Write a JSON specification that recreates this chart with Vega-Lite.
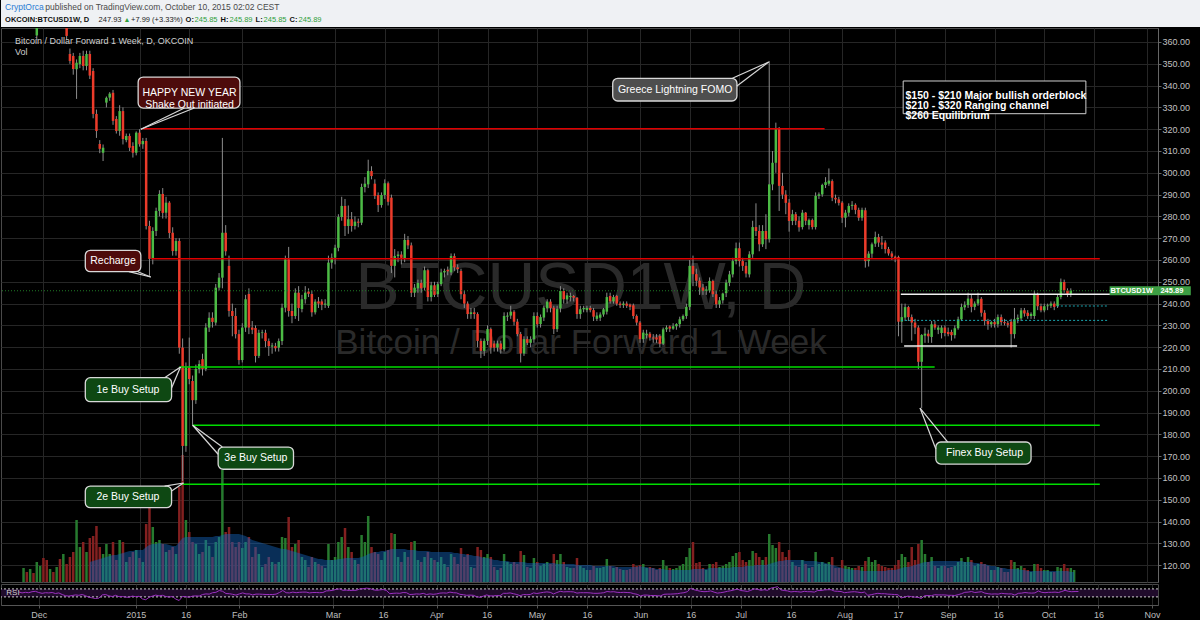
{
"$schema":"https://vega.github.io/schema/vega-lite/v6.json",
"background":"#000000",
"padding":0,
"spacing":0,
"config":{"view":{"stroke":null},"font":"Liberation Sans","axis":{"labelFont":"Liberation Sans"},"axisY":{"labelOverlap":false}},
"resolve":{"scale":{"x":"independent","y":"independent","color":"independent"}},
"datasets":{
"btc":[
{"d":"2014-11-27","o":372,"h":380,"l":368,"c":375,"v":14,"r":55},
{"d":"2014-11-28","o":375,"h":382,"l":367,"c":370,"v":10,"r":50},
{"d":"2014-11-29","o":370,"h":378,"l":368,"c":374,"v":13,"r":53},
{"d":"2014-11-30","o":374,"h":380,"l":370,"c":372,"v":9,"r":51},
{"d":"2014-12-01","o":363,"h":382,"l":361,"c":378,"v":20,"r":56},
{"d":"2014-12-02","o":378,"h":385,"l":372,"c":381,"v":16,"r":58},
{"d":"2014-12-03","o":381,"h":384,"l":370,"c":375,"v":24,"r":52},
{"d":"2014-12-04","o":375,"h":378,"l":367,"c":370,"v":22,"r":48},
{"d":"2014-12-05","o":370,"h":377,"l":367.5,"c":374,"v":13,"r":51},
{"d":"2014-12-06","o":374,"h":376,"l":369,"c":372,"v":10,"r":50},
{"d":"2014-12-07","o":372,"h":377,"l":369,"c":374,"v":15,"r":52},
{"d":"2014-12-08","o":374,"h":376,"l":367,"c":368,"v":23,"r":47},
{"d":"2014-12-09","o":368,"h":374,"l":367,"c":372,"v":28,"r":50},
{"d":"2014-12-10","o":372,"h":375,"l":361,"c":362.8,"v":18,"r":42},
{"d":"2014-12-11","o":354.5,"h":357,"l":350,"c":351.3,"v":25,"r":36},
{"d":"2014-12-12","o":353.6,"h":355,"l":345,"c":347.6,"v":30,"r":34},
{"d":"2014-12-13","o":347.5,"h":352,"l":333.9,"c":350.5,"v":62,"r":37},
{"d":"2014-12-14","o":349.9,"h":355,"l":348,"c":353.6,"v":35,"r":40},
{"d":"2014-12-15","o":353.6,"h":356,"l":347,"c":349,"v":40,"r":38},
{"d":"2014-12-16","o":349,"h":356,"l":347,"c":354.5,"v":30,"r":42},
{"d":"2014-12-17","o":354.5,"h":356,"l":343,"c":344.6,"v":44,"m":20,"r":36},
{"d":"2014-12-18","o":346.7,"h":348,"l":325,"c":327,"v":46,"m":21,"r":28},
{"d":"2014-12-19","o":327,"h":329,"l":316,"c":319.2,"v":56,"m":22,"r":25},
{"d":"2014-12-20","o":313.2,"h":315,"l":309,"c":311,"v":35,"m":23,"r":22},
{"d":"2014-12-21","o":309.2,"h":313,"l":305.4,"c":311.5,"v":28,"m":24,"r":24},
{"d":"2014-12-22","o":332.2,"h":335,"l":330,"c":334.4,"v":38,"m":25,"r":40},
{"d":"2014-12-23","o":334.5,"h":337,"l":333,"c":336.3,"v":28,"m":26,"r":42},
{"d":"2014-12-24","o":336.7,"h":338,"l":322,"c":323.8,"v":40,"m":27,"r":35},
{"d":"2014-12-25","o":324.7,"h":326,"l":318,"c":319.2,"v":22,"m":27,"r":32},
{"d":"2014-12-26","o":319.2,"h":331,"l":317,"c":328.3,"v":42,"m":28,"r":38},
{"d":"2014-12-27","o":328.3,"h":330,"l":313,"c":315.5,"v":40,"m":29,"r":31},
{"d":"2014-12-28","o":315,"h":318,"l":314,"c":316.9,"v":20,"m":30,"r":32},
{"d":"2014-12-29","o":316.9,"h":318,"l":310,"c":311.5,"v":25,"m":31,"r":29},
{"d":"2014-12-30","o":312.3,"h":314,"l":307,"c":309.2,"v":30,"m":31,"r":28},
{"d":"2014-12-31","o":309.2,"h":319,"l":308,"c":318.4,"v":32,"m":32,"r":34},
{"d":"2015-01-01","o":318.4,"h":320,"l":312,"c":313.1,"v":24,"m":32,"r":31},
{"d":"2015-01-02","o":313.1,"h":316,"l":311,"c":314.6,"v":20,"m":32,"r":33},
{"d":"2015-01-03","o":314.6,"h":316,"l":274,"c":275.6,"v":58,"m":35,"r":20},
{"d":"2015-01-04","o":275.6,"h":278,"l":252.7,"c":260.5,"v":75,"m":37,"r":16},
{"d":"2015-01-05","o":260.5,"h":275,"l":258,"c":273.3,"v":55,"m":38,"r":28},
{"d":"2015-01-06","o":273.3,"h":284,"l":271,"c":282.5,"v":40,"m":38,"r":34},
{"d":"2015-01-07","o":282.5,"h":292,"l":280,"c":290.3,"v":42,"m":39,"r":39},
{"d":"2015-01-08","o":290.3,"h":293,"l":279,"c":281.6,"v":38,"m":38,"r":35},
{"d":"2015-01-09","o":281.7,"h":289,"l":279,"c":286.3,"v":30,"m":38,"r":38},
{"d":"2015-01-10","o":286.3,"h":287,"l":270,"c":272.4,"v":32,"m":37,"r":32},
{"d":"2015-01-11","o":272.5,"h":275,"l":262,"c":264.1,"v":35,"m":36,"r":29},
{"d":"2015-01-12","o":264.1,"h":270,"l":262,"c":268.7,"v":28,"m":36,"r":32},
{"d":"2015-01-13","o":268.7,"h":270,"l":217,"c":219.8,"v":95,"m":40,"r":19},
{"d":"2015-01-14","o":219.8,"h":224,"l":158.6,"c":174.7,"v":127,"m":44,"r":12},
{"d":"2015-01-15","o":174.7,"h":213,"l":172,"c":210.6,"v":62,"m":45,"r":32},
{"d":"2015-01-16","o":210.6,"h":224.4,"l":203,"c":205.4,"v":50,"m":45,"r":31},
{"d":"2015-01-17","o":204.5,"h":207,"l":183.9,"c":195.7,"v":40,"m":45,"r":28},
{"d":"2015-01-18","o":195.7,"h":212,"l":194,"c":210,"v":38,"m":45,"r":34},
{"d":"2015-01-19","o":210,"h":214,"l":208,"c":212.3,"v":28,"m":45,"r":35},
{"d":"2015-01-20","o":214.5,"h":217,"l":207,"c":210,"v":30,"m":45,"r":34},
{"d":"2015-01-21","o":210,"h":231,"l":209,"c":229,"v":42,"m":45,"r":42},
{"d":"2015-01-22","o":229,"h":236,"l":227,"c":233.5,"v":36,"m":45,"r":45},
{"d":"2015-01-23","o":233.5,"h":236,"l":229,"c":231.6,"v":25,"m":45,"r":44},
{"d":"2015-01-24","o":231.3,"h":249,"l":230,"c":247.3,"v":40,"m":46,"r":51},
{"d":"2015-01-25","o":247.3,"h":254,"l":246,"c":251.9,"v":45,"m":46,"r":53},
{"d":"2015-01-26","o":251.9,"h":316,"l":247,"c":272.5,"v":112,"m":47,"r":62},
{"d":"2015-01-27","o":272.5,"h":276,"l":262,"c":264,"v":50,"m":48,"r":58},
{"d":"2015-01-28","o":257.3,"h":262,"l":234,"c":236.6,"v":55,"m":48,"r":47},
{"d":"2015-01-29","o":236.6,"h":240,"l":225,"c":234.3,"v":40,"m":48,"r":46},
{"d":"2015-01-30","o":234.3,"h":238,"l":224,"c":226,"v":35,"m":48,"r":43},
{"d":"2015-01-31","o":226,"h":228,"l":212,"c":214.1,"v":40,"m":48,"r":39},
{"d":"2015-02-01","o":214.1,"h":231,"l":213,"c":229,"v":34,"m":47,"r":45},
{"d":"2015-02-02","o":229,"h":244,"l":227,"c":242,"v":40,"m":46,"r":50},
{"d":"2015-02-03","o":244.4,"h":247,"l":226,"c":229,"v":45,"m":44,"r":45},
{"d":"2015-02-04","o":229,"h":232,"l":226,"c":228,"v":25,"m":42,"r":45},
{"d":"2015-02-05","o":228.8,"h":230,"l":213,"c":216,"v":35,"m":41,"r":40},
{"d":"2015-02-06","o":216,"h":228,"l":215,"c":226.6,"v":28,"m":40,"r":44},
{"d":"2015-02-07","o":226.6,"h":228,"l":224,"c":226.9,"v":15,"m":39,"r":44},
{"d":"2015-02-08","o":226.6,"h":228,"l":220,"c":222.8,"v":18,"m":38,"r":43},
{"d":"2015-02-09","o":222.8,"h":224,"l":216,"c":220.5,"v":25,"m":37,"r":42},
{"d":"2015-02-10","o":220.3,"h":222,"l":217,"c":220.8,"v":20,"m":36,"r":42},
{"d":"2015-02-11","o":220.5,"h":222,"l":218,"c":219.5,"v":18,"m":35,"r":42},
{"d":"2015-02-12","o":219.8,"h":224,"l":218,"c":222.8,"v":20,"m":34,"r":44},
{"d":"2015-02-13","o":222.8,"h":240,"l":221,"c":238.1,"v":45,"m":33,"r":52},
{"d":"2015-02-14","o":238.1,"h":262,"l":236,"c":260.3,"v":44,"m":33,"r":62},
{"d":"2015-02-15","o":260.3,"h":266,"l":234,"c":236.6,"v":65,"m":32,"r":51},
{"d":"2015-02-16","o":236.6,"h":240,"l":231,"c":234.3,"v":35,"m":31,"r":50},
{"d":"2015-02-17","o":234.3,"h":247,"l":233,"c":245,"v":38,"m":30,"r":54},
{"d":"2015-02-18","o":245,"h":248,"l":232,"c":238,"v":42,"m":29,"r":51},
{"d":"2015-02-19","o":237.5,"h":244,"l":236,"c":242,"v":25,"m":28,"r":53},
{"d":"2015-02-20","o":242,"h":248,"l":240,"c":245,"v":22,"m":27,"r":54},
{"d":"2015-02-21","o":245.5,"h":247,"l":243,"c":244.5,"v":15,"m":26,"r":54},
{"d":"2015-02-22","o":244.4,"h":246,"l":234,"c":236,"v":25,"m":25,"r":50},
{"d":"2015-02-23","o":236,"h":242,"l":235,"c":240.9,"v":20,"m":24,"r":52},
{"d":"2015-02-24","o":241,"h":243,"l":238,"c":240,"v":18,"m":23,"r":52},
{"d":"2015-02-25","o":241,"h":242,"l":237,"c":239.5,"v":16,"m":23,"r":51},
{"d":"2015-02-26","o":239.5,"h":242,"l":238,"c":240,"v":14,"m":22,"r":52},
{"d":"2015-02-27","o":239,"h":262,"l":238,"c":258.8,"v":38,"m":22,"r":60},
{"d":"2015-02-28","o":258.8,"h":263,"l":256,"c":261.1,"v":22,"m":22,"r":61},
{"d":"2015-03-01","o":261.1,"h":267,"l":258,"c":265.6,"v":25,"m":22,"r":63},
{"d":"2015-03-02","o":265.6,"h":281,"l":264,"c":279.7,"v":40,"m":23,"r":68},
{"d":"2015-03-03","o":279.7,"h":289,"l":278,"c":284.8,"v":45,"m":23,"r":70},
{"d":"2015-03-04","o":284.8,"h":288,"l":271,"c":275.6,"v":54,"m":24,"r":63},
{"d":"2015-03-05","o":275.6,"h":285,"l":272,"c":278.7,"v":35,"m":24,"r":64},
{"d":"2015-03-06","o":278.7,"h":282,"l":273,"c":275.6,"v":30,"m":24,"r":62},
{"d":"2015-03-07","o":275.6,"h":280,"l":274,"c":277.6,"v":22,"m":24,"r":63},
{"d":"2015-03-08","o":277.6,"h":279,"l":275,"c":277.1,"v":18,"m":24,"r":63},
{"d":"2015-03-09","o":277.1,"h":295,"l":276,"c":293.5,"v":47,"m":25,"r":70},
{"d":"2015-03-10","o":293.5,"h":298,"l":291,"c":295,"v":40,"m":26,"r":71},
{"d":"2015-03-11","o":294.7,"h":306,"l":293,"c":300.8,"v":66,"m":28,"r":74},
{"d":"2015-03-12","o":300.8,"h":303,"l":297,"c":298.5,"v":35,"m":29,"r":72},
{"d":"2015-03-13","o":295,"h":297,"l":288,"c":289.4,"v":30,"m":30,"r":66},
{"d":"2015-03-14","o":289.8,"h":291,"l":282,"c":285.2,"v":28,"m":30,"r":63},
{"d":"2015-03-15","o":285.2,"h":291,"l":284,"c":289.8,"v":22,"m":31,"r":65},
{"d":"2015-03-16","o":289.8,"h":297,"l":288,"c":295.2,"v":30,"m":31,"r":67},
{"d":"2015-03-17","o":295.2,"h":296,"l":285,"c":286.7,"v":32,"m":32,"r":62},
{"d":"2015-03-18","o":288.6,"h":290,"l":254,"c":257.3,"v":49,"m":33,"r":46},
{"d":"2015-03-19","o":257.3,"h":265,"l":252,"c":261.8,"v":48,"m":33,"r":48},
{"d":"2015-03-20","o":261.8,"h":264,"l":259,"c":262.5,"v":25,"m":33,"r":49},
{"d":"2015-03-21","o":262.5,"h":264,"l":258,"c":261,"v":20,"m":33,"r":48},
{"d":"2015-03-22","o":260.8,"h":272,"l":259,"c":269.2,"v":30,"m":33,"r":52},
{"d":"2015-03-23","o":269.2,"h":271,"l":265,"c":266.7,"v":25,"m":32,"r":51},
{"d":"2015-03-24","o":266.7,"h":268,"l":243,"c":245,"v":40,"m":32,"r":42},
{"d":"2015-03-25","o":245,"h":249,"l":243,"c":247.3,"v":41,"m":32,"r":43},
{"d":"2015-03-26","o":247,"h":251,"l":245,"c":249.5,"v":22,"m":31,"r":45},
{"d":"2015-03-27","o":249.5,"h":251,"l":245,"c":247,"v":20,"m":31,"r":44},
{"d":"2015-03-28","o":247.3,"h":257,"l":246,"c":255.3,"v":25,"m":31,"r":48},
{"d":"2015-03-29","o":255.3,"h":256,"l":241,"c":243,"v":30,"m":31,"r":42},
{"d":"2015-03-30","o":243,"h":250,"l":241,"c":248.4,"v":24,"m":30,"r":45},
{"d":"2015-03-31","o":248.4,"h":250,"l":243,"c":244,"v":22,"m":30,"r":43},
{"d":"2015-04-01","o":244.3,"h":250,"l":243,"c":248.9,"v":20,"m":30,"r":45},
{"d":"2015-04-02","o":248.9,"h":256,"l":248,"c":254.3,"v":25,"m":30,"r":49},
{"d":"2015-04-03","o":254.3,"h":256,"l":252,"c":255,"v":18,"m":30,"r":50},
{"d":"2015-04-04","o":255.5,"h":257,"l":253,"c":254.8,"v":15,"m":30,"r":49},
{"d":"2015-04-05","o":254.3,"h":263,"l":253,"c":261.8,"v":28,"m":30,"r":54},
{"d":"2015-04-06","o":261.8,"h":263,"l":255,"c":256.6,"v":25,"m":29,"r":51},
{"d":"2015-04-07","o":256.6,"h":258,"l":254,"c":255.8,"v":18,"m":29,"r":50},
{"d":"2015-04-08","o":255,"h":256,"l":242,"c":244.3,"v":34,"m":28,"r":43},
{"d":"2015-04-09","o":244.3,"h":246,"l":238,"c":240,"v":25,"m":28,"r":41},
{"d":"2015-04-10","o":240,"h":241,"l":233,"c":235.2,"v":28,"m":27,"r":38},
{"d":"2015-04-11","o":235.2,"h":238,"l":233,"c":236,"v":15,"m":27,"r":39},
{"d":"2015-04-12","o":236,"h":238,"l":233,"c":235.2,"v":14,"m":26,"r":38},
{"d":"2015-04-13","o":235.2,"h":236,"l":220,"c":222.9,"v":35,"m":26,"r":31},
{"d":"2015-04-14","o":222.9,"h":224,"l":215,"c":218.3,"v":32,"m":25,"r":28},
{"d":"2015-04-15","o":218.3,"h":224,"l":216,"c":222.9,"v":25,"m":24,"r":34},
{"d":"2015-04-16","o":222.9,"h":230,"l":221,"c":228.3,"v":28,"m":24,"r":40},
{"d":"2015-04-17","o":228.3,"h":229,"l":217,"c":219.8,"v":25,"m":23,"r":35},
{"d":"2015-04-18","o":221.7,"h":223,"l":218,"c":219.8,"v":15,"m":22,"r":35},
{"d":"2015-04-19","o":219.8,"h":223,"l":218,"c":221.7,"v":12,"m":22,"r":37},
{"d":"2015-04-20","o":221.7,"h":223,"l":217,"c":219,"v":14,"m":21,"r":36},
{"d":"2015-04-21","o":219,"h":236,"l":218,"c":234.3,"v":28,"m":21,"r":48},
{"d":"2015-04-22","o":234,"h":236,"l":232,"c":234.5,"v":20,"m":21,"r":48},
{"d":"2015-04-23","o":234.5,"h":239,"l":233,"c":236.3,"v":18,"m":20,"r":50},
{"d":"2015-04-24","o":236.3,"h":237,"l":230,"c":231.7,"v":20,"m":20,"r":46},
{"d":"2015-04-25","o":231.7,"h":233,"l":225,"c":226,"v":18,"m":20,"r":42},
{"d":"2015-04-26","o":226,"h":227,"l":213,"c":217.1,"v":31,"m":20,"r":36},
{"d":"2015-04-27","o":217.1,"h":225,"l":216,"c":223.7,"v":27,"m":20,"r":42},
{"d":"2015-04-28","o":223.7,"h":225,"l":221,"c":222,"v":15,"m":19,"r":41},
{"d":"2015-04-29","o":222,"h":225,"l":220,"c":223.7,"v":14,"m":19,"r":42},
{"d":"2015-04-30","o":223.7,"h":236,"l":222,"c":234.3,"v":24,"m":19,"r":50},
{"d":"2015-05-01","o":234.3,"h":236,"l":229,"c":230.5,"v":20,"m":19,"r":47},
{"d":"2015-05-02","o":230.6,"h":235,"l":229,"c":233.8,"v":16,"m":19,"r":50},
{"d":"2015-05-03","o":233.6,"h":239,"l":232,"c":238.1,"v":18,"m":19,"r":53},
{"d":"2015-05-04","o":237.8,"h":242,"l":236,"c":240.9,"v":20,"m":19,"r":55},
{"d":"2015-05-05","o":240.9,"h":242,"l":236,"c":238,"v":18,"m":19,"r":53},
{"d":"2015-05-06","o":238.1,"h":239,"l":226,"c":228.3,"v":28,"m":19,"r":45},
{"d":"2015-05-07","o":228.3,"h":239,"l":227,"c":237.5,"v":22,"m":18,"r":52},
{"d":"2015-05-08","o":237.8,"h":248,"l":236,"c":245.8,"v":28,"m":18,"r":58},
{"d":"2015-05-09","o":245.8,"h":247,"l":240,"c":242,"v":20,"m":18,"r":55},
{"d":"2015-05-10","o":241.9,"h":245,"l":240,"c":243.8,"v":15,"m":18,"r":56},
{"d":"2015-05-11","o":243,"h":245,"l":241,"c":243.5,"v":14,"m":18,"r":56},
{"d":"2015-05-12","o":243.5,"h":244,"l":241,"c":242.7,"v":14,"m":18,"r":55},
{"d":"2015-05-13","o":242.7,"h":243,"l":233,"c":235.2,"v":24,"m":17,"r":49},
{"d":"2015-05-14","o":235.2,"h":239,"l":233,"c":237.4,"v":16,"m":17,"r":51},
{"d":"2015-05-15","o":237.4,"h":239,"l":236,"c":238,"v":14,"m":17,"r":51},
{"d":"2015-05-16","o":237,"h":239,"l":236,"c":238,"v":12,"m":17,"r":51},
{"d":"2015-05-17","o":238,"h":239,"l":236,"c":237,"v":12,"m":17,"r":50},
{"d":"2015-05-18","o":237,"h":238,"l":232,"c":234,"v":16,"m":16,"r":48},
{"d":"2015-05-19","o":233,"h":236,"l":232,"c":234.5,"v":14,"m":16,"r":48},
{"d":"2015-05-20","o":233.5,"h":236,"l":232,"c":235,"v":14,"m":16,"r":49},
{"d":"2015-05-21","o":235,"h":238,"l":234,"c":237.4,"v":15,"m":16,"r":51},
{"d":"2015-05-22","o":236.3,"h":245,"l":235,"c":243,"v":23,"m":16,"r":57},
{"d":"2015-05-23","o":243.5,"h":245,"l":240,"c":241,"v":16,"m":16,"r":55},
{"d":"2015-05-24","o":241,"h":244,"l":240,"c":243,"v":14,"m":16,"r":56},
{"d":"2015-05-25","o":243.5,"h":244,"l":239,"c":240,"v":15,"m":15,"r":53},
{"d":"2015-05-26","o":240,"h":241,"l":238,"c":239.3,"v":13,"m":15,"r":52},
{"d":"2015-05-27","o":239.3,"h":241,"l":238,"c":240,"v":12,"m":15,"r":53},
{"d":"2015-05-28","o":240,"h":241,"l":238,"c":239,"v":12,"m":15,"r":52},
{"d":"2015-05-29","o":239.5,"h":240,"l":237,"c":238.5,"v":13,"m":15,"r":51},
{"d":"2015-05-30","o":239.2,"h":240,"l":233,"c":234.3,"v":18,"m":15,"r":46},
{"d":"2015-05-31","o":234.3,"h":235,"l":230,"c":231.3,"v":16,"m":15,"r":43},
{"d":"2015-06-01","o":231.3,"h":232,"l":222,"c":223.7,"v":17,"m":16,"r":35},
{"d":"2015-06-02","o":223.7,"h":228,"l":222,"c":226.7,"v":18,"m":15,"r":39},
{"d":"2015-06-03","o":225.5,"h":228,"l":224,"c":226.2,"v":14,"m":15,"r":39},
{"d":"2015-06-04","o":226.2,"h":227,"l":223,"c":224.4,"v":15,"m":14,"r":37},
{"d":"2015-06-05","o":224.4,"h":226,"l":222,"c":224,"v":14,"m":14,"r":37},
{"d":"2015-06-06","o":224.5,"h":226,"l":222,"c":223.5,"v":12,"m":13,"r":36},
{"d":"2015-06-07","o":225.1,"h":226,"l":220,"c":221.6,"v":14,"m":13,"r":35},
{"d":"2015-06-08","o":221.6,"h":229,"l":221,"c":228.2,"v":22,"m":13,"r":43},
{"d":"2015-06-09","o":228.2,"h":230,"l":227,"c":229,"v":16,"m":12,"r":44},
{"d":"2015-06-10","o":229.5,"h":230,"l":227,"c":228.5,"v":14,"m":12,"r":44},
{"d":"2015-06-11","o":228.5,"h":231,"l":228,"c":229.6,"v":13,"m":12,"r":45},
{"d":"2015-06-12","o":229.6,"h":231,"l":228,"c":230.6,"v":14,"m":12,"r":46},
{"d":"2015-06-13","o":230.6,"h":234,"l":229,"c":232.8,"v":16,"m":12,"r":49},
{"d":"2015-06-14","o":232.8,"h":235,"l":232,"c":234.3,"v":18,"m":12,"r":51},
{"d":"2015-06-15","o":234.3,"h":240,"l":233,"c":238.5,"v":25,"m":12,"r":56},
{"d":"2015-06-16","o":238.5,"h":260,"l":237,"c":257.3,"v":34,"m":12,"r":72},
{"d":"2015-06-17","o":257.3,"h":262,"l":248,"c":253.5,"v":40,"m":13,"r":66},
{"d":"2015-06-18","o":253.5,"h":256,"l":248,"c":250.5,"v":19,"m":13,"r":62},
{"d":"2015-06-19","o":250.5,"h":252,"l":244,"c":247.4,"v":20,"m":13,"r":58},
{"d":"2015-06-20","o":247.4,"h":249,"l":244,"c":245.9,"v":14,"m":13,"r":56},
{"d":"2015-06-21","o":245.9,"h":248,"l":244,"c":246.5,"v":12,"m":13,"r":57},
{"d":"2015-06-22","o":246,"h":252,"l":245,"c":250.4,"v":18,"m":14,"r":60},
{"d":"2015-06-23","o":250.4,"h":251,"l":243,"c":244.3,"v":18,"m":14,"r":54},
{"d":"2015-06-24","o":244.3,"h":246,"l":238,"c":239.7,"v":20,"m":14,"r":49},
{"d":"2015-06-25","o":239.7,"h":243,"l":238,"c":241.5,"v":15,"m":14,"r":51},
{"d":"2015-06-26","o":241.5,"h":245,"l":240,"c":244.6,"v":16,"m":14,"r":54},
{"d":"2015-06-27","o":244.8,"h":251,"l":243,"c":249.6,"v":18,"m":14,"r":58},
{"d":"2015-06-28","o":249.6,"h":255,"l":248,"c":253.4,"v":20,"m":14,"r":61},
{"d":"2015-06-29","o":253.4,"h":261,"l":252,"c":259.5,"v":26,"m":15,"r":65},
{"d":"2015-06-30","o":259.5,"h":268,"l":258,"c":265.4,"v":29,"m":15,"r":69},
{"d":"2015-07-01","o":265.4,"h":268,"l":257,"c":259.5,"v":30,"m":15,"r":62},
{"d":"2015-07-02","o":259.5,"h":261,"l":255,"c":257.3,"v":22,"m":15,"r":60},
{"d":"2015-07-03","o":257.3,"h":259,"l":252,"c":253.8,"v":20,"m":16,"r":57},
{"d":"2015-07-04","o":253.4,"h":264,"l":252,"c":262.6,"v":22,"m":16,"r":63},
{"d":"2015-07-05","o":262.6,"h":278,"l":261,"c":275.1,"v":31,"m":16,"r":70},
{"d":"2015-07-06","o":275.1,"h":286,"l":271,"c":273.3,"v":29,"m":17,"r":68},
{"d":"2015-07-07","o":273.3,"h":276,"l":264,"c":267.2,"v":25,"m":17,"r":63},
{"d":"2015-07-08","o":267.2,"h":276,"l":266,"c":273.3,"v":22,"m":17,"r":66},
{"d":"2015-07-09","o":273.3,"h":281,"l":265,"c":269.5,"v":25,"m":17,"r":63},
{"d":"2015-07-10","o":269.5,"h":351.3,"l":268,"c":294.7,"v":48,"m":18,"r":74},
{"d":"2015-07-11","o":294.7,"h":310,"l":292,"c":304.6,"v":37,"m":19,"r":77},
{"d":"2015-07-12","o":304.6,"h":323,"l":300,"c":320,"v":34,"m":20,"r":81},
{"d":"2015-07-13","o":320,"h":321,"l":282.5,"c":294,"v":40,"m":21,"r":65},
{"d":"2015-07-14","o":294,"h":300,"l":288,"c":290,"v":30,"m":21,"r":62},
{"d":"2015-07-15","o":290,"h":292,"l":281,"c":286.2,"v":25,"m":22,"r":60},
{"d":"2015-07-16","o":286.3,"h":288,"l":273,"c":277.9,"v":32,"m":22,"r":55},
{"d":"2015-07-17","o":277.9,"h":283,"l":276,"c":281,"v":20,"m":22,"r":57},
{"d":"2015-07-18","o":281,"h":282,"l":276,"c":278,"v":16,"m":22,"r":56},
{"d":"2015-07-19","o":278,"h":280,"l":273,"c":275,"v":15,"m":22,"r":54},
{"d":"2015-07-20","o":275.1,"h":283,"l":274,"c":281.7,"v":22,"m":22,"r":58},
{"d":"2015-07-21","o":281.7,"h":282,"l":276,"c":278,"v":18,"m":21,"r":56},
{"d":"2015-07-22","o":276,"h":279,"l":274,"c":278.3,"v":14,"m":21,"r":56},
{"d":"2015-07-23","o":278.3,"h":279,"l":274,"c":275.1,"v":15,"m":21,"r":54},
{"d":"2015-07-24","o":275.1,"h":291,"l":274,"c":289.4,"v":30,"m":21,"r":62},
{"d":"2015-07-25","o":289.4,"h":291,"l":288,"c":290.1,"v":18,"m":20,"r":62},
{"d":"2015-07-26","o":290.1,"h":295,"l":289,"c":294.4,"v":20,"m":20,"r":65},
{"d":"2015-07-27","o":294.4,"h":298,"l":293,"c":295.7,"v":18,"m":19,"r":66},
{"d":"2015-07-28","o":295,"h":302,"l":294,"c":296.4,"v":20,"m":18,"r":66},
{"d":"2015-07-29","o":296.2,"h":297,"l":287,"c":288.6,"v":25,"m":17,"r":59},
{"d":"2015-07-30","o":288.5,"h":290,"l":286,"c":287.8,"v":14,"m":16,"r":58},
{"d":"2015-07-31","o":287.8,"h":289,"l":285,"c":286.2,"v":14,"m":15,"r":57},
{"d":"2015-08-01","o":286.3,"h":287,"l":277,"c":279.4,"v":22,"m":14,"r":51},
{"d":"2015-08-02","o":279.4,"h":283,"l":275,"c":281.7,"v":16,"m":13,"r":53},
{"d":"2015-08-03","o":281.7,"h":286,"l":280,"c":284.8,"v":15,"m":13,"r":55},
{"d":"2015-08-04","o":284.8,"h":287,"l":283,"c":285.3,"v":14,"m":12,"r":56},
{"d":"2015-08-05","o":285.3,"h":286,"l":281,"c":283,"v":14,"m":12,"r":54},
{"d":"2015-08-06","o":283,"h":284,"l":278,"c":279.4,"v":16,"m":12,"r":51},
{"d":"2015-08-07","o":279.4,"h":284,"l":278,"c":283,"v":15,"m":11,"r":54},
{"d":"2015-08-08","o":282.8,"h":284,"l":256.5,"c":259.5,"v":21,"m":11,"r":38},
{"d":"2015-08-09","o":259.5,"h":264,"l":257,"c":262.9,"v":25,"m":11,"r":41},
{"d":"2015-08-10","o":262.9,"h":268,"l":261,"c":267.2,"v":20,"m":11,"r":45},
{"d":"2015-08-11","o":267.5,"h":273,"l":266,"c":270.5,"v":22,"m":11,"r":48},
{"d":"2015-08-12","o":270.5,"h":272,"l":266,"c":268,"v":18,"m":11,"r":46},
{"d":"2015-08-13","o":268,"h":271,"l":265,"c":267,"v":16,"m":11,"r":46},
{"d":"2015-08-14","o":268,"h":269,"l":263,"c":265,"v":15,"m":11,"r":44},
{"d":"2015-08-15","o":265,"h":266,"l":262,"c":263,"v":14,"m":12,"r":43},
{"d":"2015-08-16","o":263,"h":264,"l":260,"c":261.5,"v":14,"m":12,"r":42},
{"d":"2015-08-17","o":261.5,"h":262,"l":259,"c":260.8,"v":17,"m":12,"r":41},
{"d":"2015-08-18","o":261.4,"h":262,"l":225,"c":231.7,"v":22,"m":13,"r":25},
{"d":"2015-08-19","o":231.7,"h":240,"l":222,"c":233.8,"v":28,"m":14,"r":29},
{"d":"2015-08-20","o":233.6,"h":240,"l":232,"c":238.4,"v":25,"m":15,"r":34},
{"d":"2015-08-21","o":238.4,"h":239,"l":232,"c":233.8,"v":20,"m":15,"r":31},
{"d":"2015-08-22","o":233.8,"h":235,"l":223,"c":231.3,"v":35,"m":16,"r":29},
{"d":"2015-08-23","o":231.3,"h":233,"l":226,"c":229,"v":22,"m":17,"r":28},
{"d":"2015-08-24","o":229,"h":230,"l":210,"c":213.3,"v":38,"m":18,"r":22},
{"d":"2015-08-25","o":213.3,"h":226,"l":192,"c":225.6,"v":42,"m":19,"r":36},
{"d":"2015-08-26","o":225.3,"h":229,"l":222,"c":226.2,"v":28,"m":20,"r":37},
{"d":"2015-08-27","o":226.2,"h":228,"l":222,"c":225,"v":20,"m":20,"r":36},
{"d":"2015-08-28","o":224.7,"h":232,"l":222,"c":230.5,"v":25,"m":21,"r":41},
{"d":"2015-08-29","o":230.5,"h":232,"l":228,"c":229,"v":16,"m":21,"r":40},
{"d":"2015-08-30","o":228,"h":230,"l":226,"c":229,"v":14,"m":21,"r":40},
{"d":"2015-08-31","o":226.5,"h":230,"l":224,"c":229,"v":16,"m":21,"r":40},
{"d":"2015-09-01","o":229,"h":230,"l":225,"c":226.5,"v":16,"m":21,"r":38},
{"d":"2015-09-02","o":227,"h":229,"l":225,"c":226,"v":14,"m":21,"r":38},
{"d":"2015-09-03","o":227,"h":228,"l":223,"c":225.5,"v":15,"m":21,"r":37},
{"d":"2015-09-04","o":225.5,"h":230,"l":224,"c":228.7,"v":16,"m":21,"r":41},
{"d":"2015-09-05","o":228.7,"h":234,"l":228,"c":232.8,"v":20,"m":21,"r":46},
{"d":"2015-09-06","o":232.8,"h":240,"l":232,"c":238.4,"v":24,"m":21,"r":53},
{"d":"2015-09-07","o":238.3,"h":241,"l":237,"c":239.3,"v":20,"m":20,"r":54},
{"d":"2015-09-08","o":239.3,"h":245,"l":238,"c":242.3,"v":25,"m":20,"r":57},
{"d":"2015-09-09","o":242.3,"h":244,"l":236,"c":238.5,"v":22,"m":20,"r":52},
{"d":"2015-09-10","o":238.5,"h":241,"l":237,"c":240,"v":16,"m":19,"r":54},
{"d":"2015-09-11","o":240,"h":245,"l":239,"c":242,"v":18,"m":19,"r":56},
{"d":"2015-09-12","o":242.2,"h":243,"l":234,"c":235.8,"v":20,"m":18,"r":49},
{"d":"2015-09-13","o":235.8,"h":237,"l":230,"c":232,"v":18,"m":18,"r":46},
{"d":"2015-09-14","o":232,"h":233,"l":228,"c":230.5,"v":16,"m":17,"r":44},
{"d":"2015-09-15","o":230.5,"h":232,"l":229,"c":231.5,"v":12,"m":16,"r":45},
{"d":"2015-09-16","o":231.5,"h":233,"l":229,"c":230.5,"v":12,"m":16,"r":44},
{"d":"2015-09-17","o":230.5,"h":235,"l":229,"c":233.8,"v":15,"m":15,"r":48},
{"d":"2015-09-18","o":233.8,"h":235,"l":230,"c":231.5,"v":14,"m":14,"r":46},
{"d":"2015-09-19","o":231.5,"h":233,"l":230,"c":231,"v":10,"m":14,"r":45},
{"d":"2015-09-20","o":231,"h":232,"l":229,"c":230.3,"v":10,"m":13,"r":45},
{"d":"2015-09-21","o":231.7,"h":233,"l":219.8,"c":226,"v":22,"m":13,"r":39},
{"d":"2015-09-22","o":226,"h":238,"l":224,"c":232.8,"v":20,"m":13,"r":48},
{"d":"2015-09-23","o":232.8,"h":235,"l":231,"c":233.5,"v":14,"m":13,"r":49},
{"d":"2015-09-24","o":233.2,"h":238,"l":232,"c":236.9,"v":16,"m":12,"r":52},
{"d":"2015-09-25","o":237,"h":238,"l":234,"c":235.5,"v":14,"m":12,"r":50},
{"d":"2015-09-26","o":235.8,"h":237,"l":233,"c":234.3,"v":12,"m":11,"r":49},
{"d":"2015-09-27","o":234.3,"h":236,"l":233,"c":235.3,"v":10,"m":11,"r":50},
{"d":"2015-09-28","o":234.3,"h":246,"l":233,"c":244.3,"v":18,"m":11,"r":60},
{"d":"2015-09-29","o":244,"h":245,"l":237,"c":238.8,"v":18,"m":11,"r":53},
{"d":"2015-09-30","o":238.8,"h":240,"l":236,"c":236.9,"v":14,"m":11,"r":51},
{"d":"2015-10-01","o":236.9,"h":240,"l":236,"c":238.8,"v":12,"m":11,"r":53},
{"d":"2015-10-02","o":238.8,"h":240,"l":237,"c":239.2,"v":12,"m":11,"r":53},
{"d":"2015-10-03","o":239,"h":241,"l":238,"c":240,"v":10,"m":11,"r":54},
{"d":"2015-10-04","o":240,"h":241,"l":237,"c":238.5,"v":10,"m":11,"r":52},
{"d":"2015-10-05","o":238.9,"h":244,"l":238,"c":243,"v":15,"m":11,"r":57},
{"d":"2015-10-06","o":243,"h":251.5,"l":242,"c":249.9,"v":14,"m":11,"r":63},
{"d":"2015-10-07","o":249.9,"h":251,"l":245,"c":246.1,"v":18,"m":11,"r":58},
{"d":"2015-10-08","o":246,"h":247,"l":243,"c":244.5,"v":14,"m":11,"r":56},
{"d":"2015-10-09","o":244.5,"h":247,"l":243,"c":246,"v":14,"m":10,"r":57},
{"d":"2015-10-10","o":245.85,"h":245.89,"l":245.85,"c":245.89,"v":12,"m":10,"r":57}
],
"redLines":[
{"x1":"2015-01-01T14:00:00Z","x2":"2015-07-26T17:00:00Z","p":320.2},
{"x1":"2015-01-04T14:00:00Z","x2":"2015-10-17T18:00:00Z","p":260.6}
],
"greenLines":[
{"x1":"2015-01-13T01:00:00Z","x2":"2015-08-28T22:00:00Z","p":210.9},
{"x1":"2015-01-17T01:00:00Z","x2":"2015-10-17T18:00:00Z","p":184.2},
{"x1":"2015-01-13T23:00:00Z","x2":"2015-10-17T18:00:00Z","p":157.1}
],
"whiteLines":[
{"x1":"2015-08-18T17:00:00Z","x2":"2015-10-21T17:00:00Z","p":244.3},
{"x1":"2015-08-19T17:00:00Z","x2":"2015-09-22T19:00:00Z","p":220.6}
],
"cyanLines":[
{"x1":"2015-10-04T19:00:00Z","x2":"2015-10-20T07:00:00Z","p":238.9},
{"x1":"2015-08-18T19:00:00Z","x2":"2015-10-20T07:00:00Z","p":232.3}
],
"boxes":[
{"x1":"2014-12-31T14:00:00Z","x2":"2015-01-31T07:00:00Z","p1":343.9,"p2":329.7,"k":"red"},
{"x1":"2014-12-15T15:20:00Z","x2":"2015-01-01T09:20:00Z","p1":264.45,"p2":254.63,"k":"red"},
{"x1":"2014-12-15T15:20:00Z","x2":"2015-01-10T16:00:00Z","p1":206.0,"p2":195.0,"k":"green"},
{"x1":"2015-01-24T17:15:00Z","x2":"2015-02-16T11:00:00Z","p1":174.2,"p2":164.0,"k":"green"},
{"x1":"2014-12-15T15:20:00Z","x2":"2015-01-10T16:00:00Z","p1":156.3,"p2":146.4,"k":"green"},
{"x1":"2015-08-29T06:40:00Z","x2":"2015-09-27T00:00:00Z","p1":176.5,"p2":166.4,"k":"green"},
{"x1":"2015-05-23T18:40:00Z","x2":"2015-06-30T06:15:00Z","p1":343.35,"p2":332.94,"k":"gray"}
],
"ptrs":[
{"x1":"2015-01-14T13:00:00Z","p1":329.7,"x2":"2015-01-01T09:20:00Z","p2":319.95},
{"x1":"2015-01-17T13:00:00Z","p1":329.7,"x2":"2015-01-01T09:20:00Z","p2":319.95},
{"x1":"2014-12-28T19:00:00Z","p1":254.63,"x2":"2015-01-04T09:10:00Z","p2":252.2},
{"x1":"2014-12-31T12:00:00Z","p1":254.63,"x2":"2015-01-04T09:10:00Z","p2":252.2},
{"x1":"2015-01-08T13:40:00Z","p1":206.0,"x2":"2015-01-13T08:24:00Z","p2":210.9},
{"x1":"2015-01-10T16:00:00Z","p1":201.3,"x2":"2015-01-13T08:24:00Z","p2":210.9},
{"x1":"2015-01-24T17:15:00Z","p1":170.9,"x2":"2015-01-17T00:45:00Z","p2":184.2},
{"x1":"2015-01-26T00:00:00Z","p1":174.2,"x2":"2015-01-17T00:45:00Z","p2":184.2},
{"x1":"2015-01-08T13:40:00Z","p1":156.3,"x2":"2015-01-14T06:00:00Z","p2":157.7},
{"x1":"2015-01-10T16:00:00Z","p1":154.0,"x2":"2015-01-14T06:00:00Z","p2":157.7},
{"x1":"2015-08-29T06:40:00Z","p1":173.3,"x2":"2015-08-24T12:00:00Z","p2":192.1},
{"x1":"2015-09-01T21:00:00Z","p1":176.5,"x2":"2015-08-24T12:00:00Z","p2":192.1},
{"x1":"2015-06-28T21:10:00Z","p1":343.35,"x2":"2015-07-09T20:00:00Z","p2":350.8},
{"x1":"2015-06-30T06:15:00Z","p1":339.8,"x2":"2015-07-09T20:00:00Z","p2":350.8}
],
"ctext":[
{"d":"2015-01-16T02:00:00Z","p":336.8,"t":["HAPPY NEW YEAR","Shake Out initiated"]},
{"d":"2014-12-24T00:00:00Z","p":259.5,"t":"Recharge"},
{"d":"2014-12-28T12:00:00Z","p":200.5,"t":"1e Buy Setup"},
{"d":"2015-02-05T02:00:00Z","p":169.1,"t":"3e Buy Setup"},
{"d":"2014-12-28T12:00:00Z","p":151.4,"t":"2e Buy Setup"},
{"d":"2015-09-12T23:00:00Z","p":171.5,"t":"Finex Buy Setup"},
{"d":"2015-06-11T14:30:00Z","p":338.1,"t":"Greece Lightning FOMO"}
]
},
"vconcat":[
{
"width":1200,"height":27,
"view":{"fill":"#eff1f4","stroke":null},
"layer":[
{"data":{"values":[{"row":"1","t":"CryptOrca"}]},"mark":{"type":"text","align":"left","baseline":"middle","fontSize":8.5,"color":"#2b7cd3","dx":1.3},"encoding":{"x":{"datum":{"year":2014,"month":11,"date":22,"hours":12,"utc":true},"type":"temporal","scale":{"type":"utc","domain":[{"year":2014,"month":11,"date":21,"hours":17,"utc":true},{"year":2015,"month":11,"date":2,"hours":19,"minutes":12,"utc":true}],"nice":false},"axis":null},"y":{"field":"row","type":"ordinal","scale":{"domain":["1","2"]},"axis":null},"text":{"field":"t"}}},
{"data":{"values":[{"row":"1","t":"published on TradingView.com, October 10, 2015 02:02 CEST"}]},"mark":{"type":"text","align":"left","baseline":"middle","fontSize":8.5,"color":"#4a4a4a","dx":41.5},"encoding":{"x":{"datum":{"year":2014,"month":11,"date":22,"hours":12,"utc":true},"type":"temporal","axis":null},"y":{"field":"row","type":"ordinal","axis":null},"text":{"field":"t"}}},
{"data":{"values":[{"row":"2","t":"OKCOIN:BTCUSD1W, D"}]},"mark":{"type":"text","align":"left","baseline":"middle","fontSize":7.5,"fontWeight":"bold","color":"#111111","dx":1.3},"encoding":{"x":{"datum":{"year":2014,"month":11,"date":22,"hours":12,"utc":true},"type":"temporal","axis":null},"y":{"field":"row","type":"ordinal","axis":null},"text":{"field":"t"}}},
{"data":{"values":[{"row":"2","t":"247.93"}]},"mark":{"type":"text","align":"left","baseline":"middle","fontSize":7.5,"color":"#222222","dx":94.8},"encoding":{"x":{"datum":{"year":2014,"month":11,"date":22,"hours":12,"utc":true},"type":"temporal","axis":null},"y":{"field":"row","type":"ordinal","axis":null},"text":{"field":"t"}}},
{"data":{"values":[{"row":"2","t":"▲"}]},"mark":{"type":"text","align":"left","baseline":"middle","fontSize":7,"color":"#2e9e3a","dx":119.8},"encoding":{"x":{"datum":{"year":2014,"month":11,"date":22,"hours":12,"utc":true},"type":"temporal","axis":null},"y":{"field":"row","type":"ordinal","axis":null},"text":{"field":"t"}}},
{"data":{"values":[{"row":"2","t":"+7.99 (+3.33%)"}]},"mark":{"type":"text","align":"left","baseline":"middle","fontSize":7.5,"color":"#222222","dx":127.3},"encoding":{"x":{"datum":{"year":2014,"month":11,"date":22,"hours":12,"utc":true},"type":"temporal","axis":null},"y":{"field":"row","type":"ordinal","axis":null},"text":{"field":"t"}}},
{"data":{"values":[{"row":"2","t":"O:"}]},"mark":{"type":"text","align":"left","baseline":"middle","fontSize":7.5,"fontWeight":"bold","color":"#111111","dx":181.8},"encoding":{"x":{"datum":{"year":2014,"month":11,"date":22,"hours":12,"utc":true},"type":"temporal","axis":null},"y":{"field":"row","type":"ordinal","axis":null},"text":{"field":"t"}}},
{"data":{"values":[{"row":"2","t":"H:"}]},"mark":{"type":"text","align":"left","baseline":"middle","fontSize":7.5,"fontWeight":"bold","color":"#111111","dx":216.8},"encoding":{"x":{"datum":{"year":2014,"month":11,"date":22,"hours":12,"utc":true},"type":"temporal","axis":null},"y":{"field":"row","type":"ordinal","axis":null},"text":{"field":"t"}}},
{"data":{"values":[{"row":"2","t":"L:"}]},"mark":{"type":"text","align":"left","baseline":"middle","fontSize":7.5,"fontWeight":"bold","color":"#111111","dx":251.8},"encoding":{"x":{"datum":{"year":2014,"month":11,"date":22,"hours":12,"utc":true},"type":"temporal","axis":null},"y":{"field":"row","type":"ordinal","axis":null},"text":{"field":"t"}}},
{"data":{"values":[{"row":"2","t":"C:"}]},"mark":{"type":"text","align":"left","baseline":"middle","fontSize":7.5,"fontWeight":"bold","color":"#111111","dx":285.8},"encoding":{"x":{"datum":{"year":2014,"month":11,"date":22,"hours":12,"utc":true},"type":"temporal","axis":null},"y":{"field":"row","type":"ordinal","axis":null},"text":{"field":"t"}}},
{"data":{"values":[{"row":"2","t":"245.85"}]},"mark":{"type":"text","align":"left","baseline":"middle","fontSize":7.5,"color":"#2e9e3a","dx":190.8},"encoding":{"x":{"datum":{"year":2014,"month":11,"date":22,"hours":12,"utc":true},"type":"temporal","axis":null},"y":{"field":"row","type":"ordinal","axis":null},"text":{"field":"t"}}},
{"data":{"values":[{"row":"2","t":"245.89"}]},"mark":{"type":"text","align":"left","baseline":"middle","fontSize":7.5,"color":"#2e9e3a","dx":225.8},"encoding":{"x":{"datum":{"year":2014,"month":11,"date":22,"hours":12,"utc":true},"type":"temporal","axis":null},"y":{"field":"row","type":"ordinal","axis":null},"text":{"field":"t"}}},
{"data":{"values":[{"row":"2","t":"245.85"}]},"mark":{"type":"text","align":"left","baseline":"middle","fontSize":7.5,"color":"#2e9e3a","dx":259.8},"encoding":{"x":{"datum":{"year":2014,"month":11,"date":22,"hours":12,"utc":true},"type":"temporal","axis":null},"y":{"field":"row","type":"ordinal","axis":null},"text":{"field":"t"}}},
{"data":{"values":[{"row":"2","t":"245.89"}]},"mark":{"type":"text","align":"left","baseline":"middle","fontSize":7.5,"color":"#2e9e3a","dx":294.8},"encoding":{"x":{"datum":{"year":2014,"month":11,"date":22,"hours":12,"utc":true},"type":"temporal","axis":null},"y":{"field":"row","type":"ordinal","axis":null},"text":{"field":"t"}}}
]
},
{
"width":1157,"height":554,
"view":{"stroke":"#4a4a4a"},
"resolve":{"scale":{"y":"independent"},"axis":{"y":"independent"}},
"layer":[
{
"data":{"name":"btc"},
"layer":[
{"mark":{"type":"bar","size":2.5,"clip":true},"encoding":{"x":{"field":"d","type":"temporal","scale":{"type":"utc","domain":[{"year":2014,"month":11,"date":21,"hours":17,"utc":true},{"year":2015,"month":11,"date":2,"hours":19,"minutes":12,"utc":true}],"nice":false},"axis":{"orient":"bottom","values":[{"year":2014,"month":12,"date":3,"utc":true},{"year":2015,"month":1,"date":1,"utc":true},{"year":2015,"month":1,"date":16,"utc":true},{"year":2015,"month":2,"date":1,"utc":true},{"year":2015,"month":3,"date":1,"utc":true},{"year":2015,"month":3,"date":16,"utc":true},{"year":2015,"month":4,"date":1,"utc":true},{"year":2015,"month":4,"date":16,"utc":true},{"year":2015,"month":5,"date":1,"utc":true},{"year":2015,"month":5,"date":16,"utc":true},{"year":2015,"month":6,"date":1,"utc":true},{"year":2015,"month":6,"date":16,"utc":true},{"year":2015,"month":7,"date":1,"utc":true},{"year":2015,"month":7,"date":16,"utc":true},{"year":2015,"month":8,"date":1,"utc":true},{"year":2015,"month":8,"date":17,"utc":true},{"year":2015,"month":9,"date":1,"utc":true},{"year":2015,"month":9,"date":16,"utc":true},{"year":2015,"month":10,"date":1,"utc":true},{"year":2015,"month":10,"date":16,"utc":true},{"year":2015,"month":11,"date":1,"utc":true}],"labels":false,"ticks":false,"domain":false,"title":null,"grid":true,"gridColor":"#262626","minExtent":0,"maxExtent":0}},"y":{"field":"v","type":"quantitative","stack":null,"scale":{"domain":[0,554],"nice":false},"axis":null},"color":{"condition":{"test":"datum.c >= datum.o","value":"#277a2f"},"value":"#832020"}}},
{"mark":{"type":"area","color":"#1565c0","opacity":0.45,"clip":true},"encoding":{"x":{"field":"d","type":"temporal"},"y":{"field":"m","type":"quantitative","axis":null}}}
]
},
{
"layer":[
{"data":{"values":[{"d":"2015-05-14T05:00:00Z","p":246.7,"t":"BTCUSD1W, D"}]},"mark":{"type":"text","align":"center","baseline":"middle","fontSize":66,"color":"#2a2a2a"},"encoding":{"x":{"field":"d","type":"temporal","scale":{"type":"utc","domain":[{"year":2014,"month":11,"date":21,"hours":17,"utc":true},{"year":2015,"month":11,"date":2,"hours":19,"minutes":12,"utc":true}],"nice":false}},"y":{"field":"p","type":"quantitative","scale":{"domain":[112.29,366.42],"nice":false,"zero":false},"axis":{"orient":"right","values":[120,130,140,150,160,170,180,190,200,210,220,230,240,250,260,270,280,290,300,310,320,330,340,350,360],"tickCount":26,"format":".2f","title":null,"grid":true,"gridColor":"#262626","labelColor":"#c0c0c0","labelFontSize":9,"labelOverlap":false,"labelBound":false,"labelSeparation":0,"tickColor":"#666666","tickSize":3,"domainColor":"#666666","labelPadding":1}},"text":{"field":"t"}}},
{"data":{"values":[{"d":"2015-05-14T05:00:00Z","p":221.8,"t":"Bitcoin / Dollar Forward 1 Week"}]},"mark":{"type":"text","align":"center","baseline":"middle","fontSize":35,"color":"#2a2a2a"},"encoding":{"x":{"field":"d","type":"temporal"},"y":{"field":"p","type":"quantitative"},"text":{"field":"t"}}},
{"data":{"name":"btc"},"mark":{"type":"rule","color":"#8c8c8c","strokeWidth":1,"clip":true},"encoding":{"x":{"field":"d","type":"temporal"},"y":{"field":"l","type":"quantitative"},"y2":{"field":"h"}}},
{"data":{"name":"btc"},"mark":{"type":"bar","size":2.5,"clip":true},"encoding":{"x":{"field":"d","type":"temporal"},"y":{"field":"o","type":"quantitative"},"y2":{"field":"c"},"color":{"condition":{"test":"datum.c >= datum.o","value":"#4cbb45"},"value":"#ec3b2a"}}},
{"data":{"name":"redLines"},"mark":{"type":"rule","color":"#e00000","strokeWidth":1.6},"encoding":{"x":{"field":"x1","type":"temporal"},"x2":{"field":"x2"},"y":{"field":"p","type":"quantitative"}}},
{"data":{"name":"greenLines"},"mark":{"type":"rule","color":"#00dd00","strokeWidth":1.5},"encoding":{"x":{"field":"x1","type":"temporal"},"x2":{"field":"x2"},"y":{"field":"p","type":"quantitative"}}},
{"data":{"name":"whiteLines"},"mark":{"type":"rule","color":"#f0f0f0","strokeWidth":1.5},"encoding":{"x":{"field":"x1","type":"temporal"},"x2":{"field":"x2"},"y":{"field":"p","type":"quantitative"}}},
{"data":{"name":"cyanLines"},"mark":{"type":"rule","color":"#19a5b0","strokeWidth":1,"strokeDash":[2,2]},"encoding":{"x":{"field":"x1","type":"temporal"},"x2":{"field":"x2"},"y":{"field":"p","type":"quantitative"}}},
{"data":{"values":[{"p":245.89}]},"mark":{"type":"rule","color":"#1f7a25","strokeWidth":1,"strokeDash":[1,2]},"encoding":{"y":{"field":"p","type":"quantitative"}}},
{"data":{"name":"boxes"},"mark":{"type":"rect","cornerRadius":5,"stroke":"#d8d8d8","strokeWidth":1.3},"encoding":{"x":{"field":"x1","type":"temporal"},"x2":{"field":"x2"},"y":{"field":"p1","type":"quantitative"},"y2":{"field":"p2"},"fill":{"field":"k","type":"nominal","scale":{"domain":["red","green","gray"],"range":["#4d0b0b","#0e4813","#4e4e4e"]},"legend":null}}},
{"data":{"name":"ptrs"},"mark":{"type":"rule","color":"#d8d8d8","strokeWidth":1.2},"encoding":{"x":{"field":"x1","type":"temporal"},"x2":{"field":"x2"},"y":{"field":"p1","type":"quantitative"},"y2":{"field":"p2"}}},
{"data":{"name":"ctext"},"mark":{"type":"text","align":"center","baseline":"middle","fontSize":10.5,"lineHeight":12,"color":"#ffffff"},"encoding":{"x":{"field":"d","type":"temporal"},"y":{"field":"p","type":"quantitative"},"text":{"field":"t"}}},
{"data":{"values":[{"x1":"2015-08-19T10:05:00Z","x2":"2015-10-13T13:12:00Z","p1":342.11,"p2":327.11}]},"mark":{"type":"rect","fill":"#000000","stroke":"#cfcfcf","strokeWidth":1},"encoding":{"x":{"field":"x1","type":"temporal"},"x2":{"field":"x2"},"y":{"field":"p1","type":"quantitative"},"y2":{"field":"p2"}}},
{"data":{"values":[{"d":"2015-08-20T02:30:00Z","p":335.1,"t":["$150 - $210 Major bullish orderblock","$210 - $320 Ranging channel","$260 Equilibrium"]}]},"mark":{"type":"text","align":"left","baseline":"middle","fontSize":10.5,"fontWeight":"bold","lineHeight":9.7,"color":"#ffffff"},"encoding":{"x":{"field":"d","type":"temporal"},"y":{"field":"p","type":"quantitative"},"text":{"field":"t"}}},
{"data":{"values":[{"d":"2014-11-24T10:00:00Z","p":360.4,"t":"Bitcoin / Dollar Forward 1 Week, D, OKCOIN"},{"d":"2014-11-24T10:00:00Z","p":355.4,"t":"Vol"}]},"mark":{"type":"text","align":"left","baseline":"middle","fontSize":9,"color":"#d0d0d0"},"encoding":{"x":{"field":"d","type":"temporal"},"y":{"field":"p","type":"quantitative"},"text":{"field":"t"}}},
{"data":{"values":[{"x1":"2015-10-20T17:00:00Z","x2":"2015-11-14T05:00:00Z","p1":248.0,"p2":243.8}]},"mark":{"type":"rect","fill":"#3d9f44","clip":false},"encoding":{"x":{"field":"x1","type":"temporal"},"x2":{"field":"x2"},"y":{"field":"p1","type":"quantitative"},"y2":{"field":"p2"}}},
{"data":{"values":[{"d":"2015-10-27T09:00:00Z","p":245.9,"t":"BTCUSD1W"},{"d":"2015-11-08T12:00:00Z","p":245.9,"t":"245.89"}]},"mark":{"type":"text","align":"center","baseline":"middle","fontSize":7.5,"fontWeight":"bold","color":"#ffffff","clip":false},"encoding":{"x":{"field":"d","type":"temporal"},"y":{"field":"p","type":"quantitative"},"text":{"field":"t"}}}
]
}
]
},
{
"width":1157,"height":21,
"view":{"stroke":"#4a4a4a"},
"layer":[
{"data":{"values":[{"lo":30,"hi":70}]},"mark":{"type":"rect","color":"#200b2b"},"encoding":{"y":{"field":"lo","type":"quantitative","scale":{"domain":[-10.6,94.7],"nice":false,"zero":false},"axis":null},"y2":{"field":"hi"}}},
{"data":{"values":[{"lv":30},{"lv":70}]},"mark":{"type":"rule","color":"#d0d0d0","strokeDash":[2,2],"strokeWidth":1},"encoding":{"y":{"field":"lv","type":"quantitative","axis":null}}},
{"data":{"name":"btc"},"mark":{"type":"line","color":"#9b2fc0","strokeWidth":1,"clip":true},"encoding":{"x":{"field":"d","type":"temporal","scale":{"type":"utc","domain":[{"year":2014,"month":11,"date":21,"hours":17,"utc":true},{"year":2015,"month":11,"date":2,"hours":19,"minutes":12,"utc":true}],"nice":false},"axis":{"orient":"bottom","values":[{"year":2014,"month":12,"date":3,"utc":true},{"year":2015,"month":1,"date":1,"utc":true},{"year":2015,"month":1,"date":16,"utc":true},{"year":2015,"month":2,"date":1,"utc":true},{"year":2015,"month":3,"date":1,"utc":true},{"year":2015,"month":3,"date":16,"utc":true},{"year":2015,"month":4,"date":1,"utc":true},{"year":2015,"month":4,"date":16,"utc":true},{"year":2015,"month":5,"date":1,"utc":true},{"year":2015,"month":5,"date":16,"utc":true},{"year":2015,"month":6,"date":1,"utc":true},{"year":2015,"month":6,"date":16,"utc":true},{"year":2015,"month":7,"date":1,"utc":true},{"year":2015,"month":7,"date":16,"utc":true},{"year":2015,"month":8,"date":1,"utc":true},{"year":2015,"month":8,"date":17,"utc":true},{"year":2015,"month":9,"date":1,"utc":true},{"year":2015,"month":9,"date":16,"utc":true},{"year":2015,"month":10,"date":1,"utc":true},{"year":2015,"month":10,"date":16,"utc":true},{"year":2015,"month":11,"date":1,"utc":true}],"labelExpr":"utcdate(datum.value) <= 3 ? (utcmonth(datum.value) == 0 ? utcFormat(datum.value, '%Y') : utcFormat(datum.value, '%b')) : utcFormat(datum.value, '%-d')","title":null,"grid":true,"gridColor":"#262626","labelColor":"#bdbdbd","labelFontSize":9,"tickColor":"#555555","tickSize":3,"domainColor":"#555555","labelPadding":2,"labelOverlap":false}},"y":{"field":"r","type":"quantitative","axis":null}}},
{"data":{"values":[{"d":"2014-11-23T00:00:00Z","r":50,"t":"RSI"}]},"mark":{"type":"text","align":"left","baseline":"middle","fontSize":8,"color":"#cfcfcf","dx":1},"encoding":{"x":{"field":"d","type":"temporal"},"y":{"field":"r","type":"quantitative","axis":null},"text":{"field":"t"}}}
]
},
{
"width":1200,"height":8,
"view":{"fill":"#eff1f4","stroke":null},
"data":{"values":[{"z":0}]},
"mark":{"type":"rule","opacity":0},
"encoding":{"y":{"field":"z","type":"quantitative","axis":null}}
}
]
}
